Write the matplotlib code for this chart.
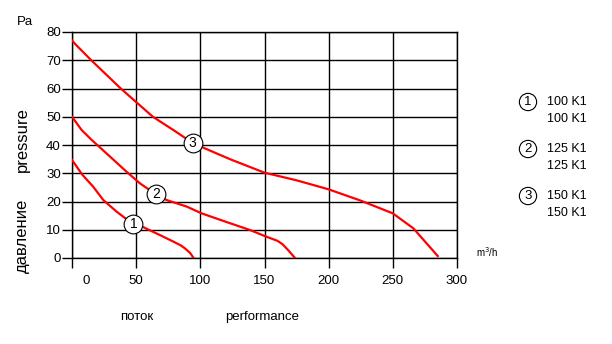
import matplotlib.pyplot as plt

plt.rcParams['font.family'] = ['Liberation Sans', 'DejaVu Sans']
plt.rcParams['font.size'] = 9

# curve data (m3/h, Pa)
q1 = [0, 8, 16.6, 24.4, 34.8, 47.8, 55.6, 68.6, 79, 85, 88, 92, 94.8]
p1 = [34.7, 29.5, 25.2, 20.5, 16.4, 11.9, 10.9, 8.1, 5.8, 4.4, 3.4, 1.8, 0]
q2 = [0, 7.5, 15.3, 29.6, 42.6, 53, 65.5, 73.8, 89.4, 101, 120, 138.7, 151.7, 160, 164, 168, 173.8]
p2 = [50, 45.3, 41.8, 35.9, 30.5, 26.4, 22.5, 20.5, 18.2, 15.8, 12.8, 9.9, 7.5, 6.1, 4.9, 3.0, 0]
q3 = [0, 3, 15, 38, 63, 80, 94, 100, 123, 150, 175, 200, 225, 250, 266, 285]
p3 = [77, 75.5, 70, 60, 50, 45, 40.7, 39.5, 35, 30.2, 27.5, 24.3, 20.3, 15.8, 10.5, 0.7]

label_q = [47.8, 65.5, 94]
label_p = [11.9, 22.5, 40.7]
numbers = ['1', '2', '3']
models = ['100 K1', '125 K1', '150 K1']

xticks = [0, 50, 100, 150, 200, 250, 300]
yticks = [0, 10, 20, 30, 40, 50, 60, 70, 80]

fig = plt.figure(figsize=(6.12, 3.44), dpi=100)
ax = fig.add_axes([72/612, 86/344, 385/612, 226/344])

for q, p in [(q1, p1), (q2, p2), (q3, p3)]:
    ax.plot(q, p, color='#ff0000', lw=1.6, zorder=3, solid_joinstyle='round')

ax.plot(label_q, label_p, 'o', ms=13.5, mfc='white', mec='black', mew=0.8, zorder=4)
for x, y, n in zip(label_q, label_p, numbers):
    ax.text(x, y, n, ha='center', va='center', fontsize=10, zorder=5)

ax.set_xlim(0, 300)
ax.set_ylim(0, 80)
ax.set_xticks(xticks, [''] + [str(v) for v in xticks[1:]])
ax.set_yticks(yticks)
ax.grid(True, color='black', lw=1)
ax.set_axisbelow(True)
for s in ax.spines.values():
    s.set_linewidth(1)
ax.tick_params(direction='out', length=7, width=1, labelsize=9.5)
ax.tick_params(axis='x', pad=5)
ax.tick_params(axis='y', pad=1)

# the "0" label sits right of its tick in the original
ax.annotate('0', xy=(0, 0), xycoords=('data', 'axes fraction'), xytext=(10, -12),
            textcoords='offset points', ha='center', va='top', fontsize=9.5)

fig.text(25/612, 1 - 22/344, 'Pa', ha='center', va='center', fontsize=9.5)
fig.text(476/612, 1 - 252/344, 'm$^3$/h', ha='left', va='center', fontsize=7)
fig.text(22/612, 1 - 236/344, 'давление', rotation=90, ha='center', va='center', fontsize=12)
fig.text(22/612, 1 - 140/344, 'pressure', rotation=90, ha='center', va='center', fontsize=12)
fig.text(137/612, 1 - 317/344, 'поток', ha='center', va='center', fontsize=9.5)
fig.text(262/612, 1 - 317/344, 'performance', ha='center', va='center', fontsize=9.5)

# legend on the right
for i, (n, m) in enumerate(zip(numbers, models)):
    yc = 102 + i * 47
    fig.text(528/612, 1 - yc/344, n, ha='center', va='center', fontsize=9.5,
             bbox=dict(boxstyle='circle,pad=0.2', fc='white', ec='black', lw=0.8))
    fig.text(547/612, 1 - yc/344, m, ha='left', va='center', fontsize=9)
    fig.text(547/612, 1 - (yc + 17)/344, m, ha='left', va='center', fontsize=9)

fig.savefig('out.png', dpi=100)
